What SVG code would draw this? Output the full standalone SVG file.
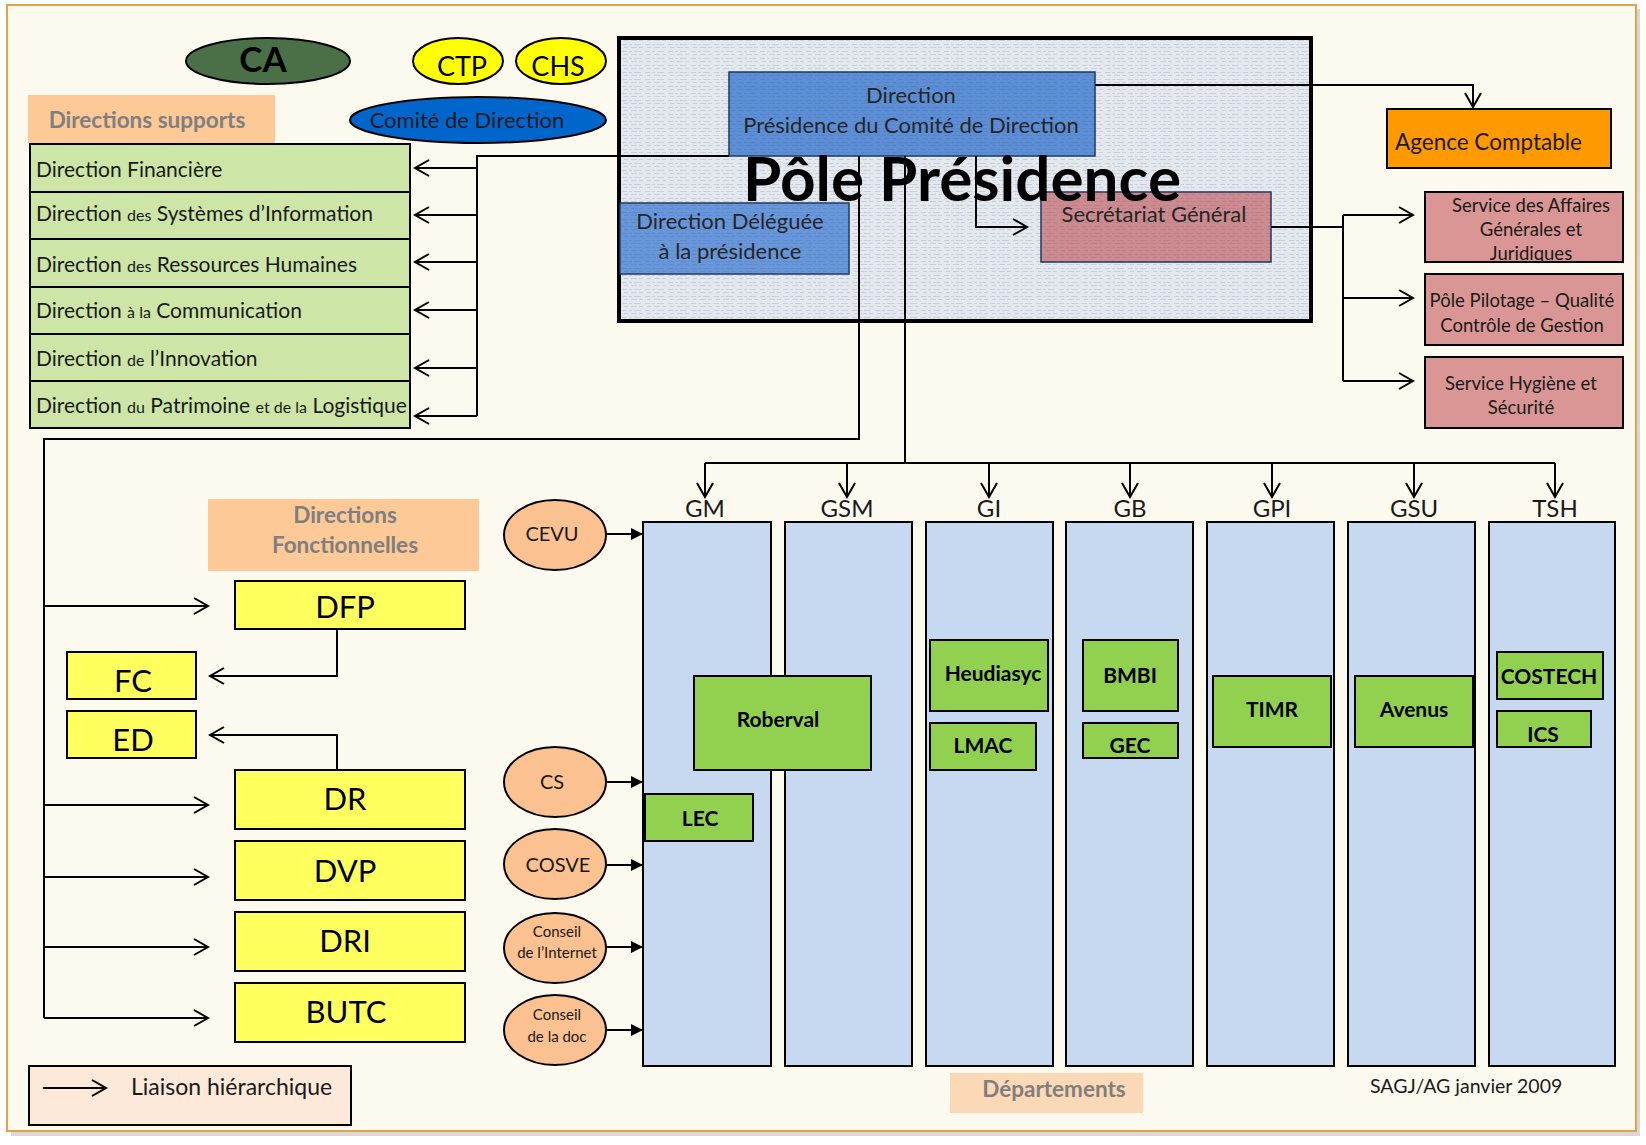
<svg xmlns="http://www.w3.org/2000/svg" width="1646" height="1145" viewBox="0 0 1646 1145">
<style>
text { font-family: Lato, "Open Sans", "Liberation Sans", sans-serif; fill:#1a1a1a; }
.bx { stroke:#000; stroke-width:2; }
.sup { fill:#CDE6A8; }
.yel { fill:#FFFF5E; }
.ell { fill:#FBC190; stroke:#000; stroke-width:2; }
.col { fill:#C6D9F1; stroke:#000; stroke-width:2; }
.lab { fill:#92D050; stroke:#000; stroke-width:2; }
.pink { fill:#D99694; stroke:#000; stroke-width:2; }
.peach { fill:#FCC997; }
.conn { fill:none; stroke:#000; stroke-width:2; }
.arr { marker-end:url(#open); }
.sarr { marker-end:url(#solid); }
.gl { font-weight:bold; fill:#7F7F7F; font-size:22.5px; text-anchor:middle; }
.st { font-size:21px; }
.sm { font-size:16px; }
.ytxt { font-size:31px; text-anchor:middle; fill:#000; }
.ltxt { font-size:21px; font-weight:bold; text-anchor:middle; fill:#000; }
.dep { font-size:24px; text-anchor:middle; }
.rt { font-size:18.5px; text-anchor:middle; }
.et { font-size:20px; text-anchor:middle; }
.es { font-size:15px; text-anchor:middle; }
.pt { font-size:22px; text-anchor:middle; fill:#262626; }
</style>
<defs>
<marker id="open" markerUnits="userSpaceOnUse" markerWidth="18" markerHeight="20" refX="15" refY="9" orient="auto">
<path d="M1,1 L15,9 L1,17" fill="none" stroke="#000" stroke-width="2"/>
</marker>
<marker id="solid" markerUnits="userSpaceOnUse" markerWidth="14" markerHeight="14" refX="12" refY="6" orient="auto">
<path d="M0,0 L12,6 L0,12 Z" fill="#000"/>
</marker>
<pattern id="tex" width="23" height="7" patternUnits="userSpaceOnUse">
<rect width="23" height="7" fill="#E3E7EE"/>
<path d="M1 2.5h5M8 2.5h3M13 2.5h7M3 5.5h4M10 5.5h6M18 5.5h4" stroke="#C9D0DB" stroke-width="1.2"/>
</pattern>
<pattern id="tex2" width="23" height="7" patternUnits="userSpaceOnUse">
<path d="M1 2.5h5M8 2.5h3M13 2.5h7M3 5.5h4M10 5.5h6M18 5.5h4" stroke="#000" stroke-opacity="0.08" stroke-width="1.2"/>
</pattern>
</defs>

<rect x="0" y="0" width="1646" height="1145" fill="#ffffff"/>
<rect x="11" y="9" width="1629" height="1127" fill="#bfbfbf" opacity="0.6"/>
<rect x="7" y="5" width="1629" height="1126" fill="#FCFAEF" stroke="#E3A34A" stroke-width="2"/>

<g id="pole-presidence">
<rect x="619" y="38" width="692" height="283" fill="url(#tex)" stroke="#000" stroke-width="4"/>
</g>
<g id="direction">
<rect x="729" y="72" width="366" height="84" fill="#5C8ED6" stroke="#1F3A60" stroke-width="1.5"/>
<rect x="729" y="72" width="366" height="84" fill="url(#tex2)"/>
<text class="pt" x="911" y="103">Direction</text>
<text class="pt" x="911" y="133">Présidence du Comité de Direction</text>
</g>
<g id="direction-deleguee">
<rect x="620" y="203" width="229" height="71" fill="#6797DA" stroke="#1F3A60" stroke-width="1.5"/>
<rect x="620" y="203" width="229" height="71" fill="url(#tex2)"/>
<text class="pt" x="730" y="229">Direction Déléguée</text>
<text class="pt" x="730" y="259">à la présidence</text>
</g>
<g id="secretariat">
<rect x="1041" y="192" width="230" height="70" fill="#CC8B90" stroke="#1F3A60" stroke-width="1.5"/>
<rect x="1041" y="192" width="230" height="70" fill="url(#tex2)"/>
<text class="pt" x="1154" y="222">Secrétariat Général</text>
</g>

<g id="connectors">
<path class="conn" d="M729 156 H477 V416"/>
<path class="conn arr" d="M477 168 H415"/>
<path class="conn arr" d="M477 215 H415"/>
<path class="conn arr" d="M477 262 H415"/>
<path class="conn arr" d="M477 310 H415"/>
<path class="conn arr" d="M477 368 H415"/>
<path class="conn arr" d="M477 416 H415"/>
<path class="conn arr" d="M976 156 V227 H1027"/>
<path class="conn arr" d="M1095 85 H1473 V107"/>
<path class="conn" d="M1271 227 H1343 M1343 215 V381"/>
<path class="conn arr" d="M1343 215 H1413"/>
<path class="conn arr" d="M1343 298 H1413"/>
<path class="conn arr" d="M1343 381 H1413"/>
<path class="conn" d="M859 156 V439 H44 V1018"/>
<path class="conn arr" d="M44 606 H208"/>
<path class="conn arr" d="M44 805 H208"/>
<path class="conn arr" d="M44 877 H208"/>
<path class="conn arr" d="M44 947 H208"/>
<path class="conn arr" d="M44 1018 H208"/>
<path class="conn arr" d="M337 629 V676 H210"/>
<path class="conn arr" d="M337 770 V735 H210"/>
<path class="conn" d="M905 156 V463 M705 463 H1555"/>
<path class="conn arr" d="M705 463 V497"/>
<path class="conn arr" d="M847 463 V497"/>
<path class="conn arr" d="M989 463 V497"/>
<path class="conn arr" d="M1130 463 V497"/>
<path class="conn arr" d="M1272 463 V497"/>
<path class="conn arr" d="M1414 463 V497"/>
<path class="conn arr" d="M1555 463 V497"/>
<path class="conn sarr" d="M606 534 H643"/>
<path class="conn sarr" d="M606 782 H643"/>
<path class="conn sarr" d="M606 865 H643"/>
<path class="conn sarr" d="M606 947 H643"/>
<path class="conn sarr" d="M606 1030 H643"/>
</g>

<text x="962" y="201" font-size="62" font-weight="bold" text-anchor="middle" style="fill:#000">Pôle Présidence</text>

<g id="ca"><ellipse cx="268" cy="61" rx="82" ry="23" fill="#4B6F47" stroke="#000" stroke-width="2"/>
<text x="263" y="72" font-size="35" font-weight="bold" text-anchor="middle" style="fill:#000">CA</text></g>
<g id="ctp"><ellipse cx="458" cy="61" rx="45" ry="23" fill="#FFFF00" stroke="#000" stroke-width="2"/>
<text x="462" y="76" font-size="27" text-anchor="middle" style="fill:#000">CTP</text></g>
<g id="chs"><ellipse cx="561" cy="61" rx="45" ry="23" fill="#FFFF00" stroke="#000" stroke-width="2"/>
<text x="558" y="76" font-size="27" text-anchor="middle" style="fill:#000">CHS</text></g>
<g id="comite"><ellipse cx="478" cy="120" rx="128" ry="23" fill="#0066CC" stroke="#000" stroke-width="2"/>
<text x="467" y="128" font-size="22" text-anchor="middle">Comité de Direction</text></g>

<g id="directions-supports"><rect class="peach" x="28" y="95" width="247" height="48"/>
<text class="gl" x="147" y="128">Directions supports</text></g>

<g id="dir-fin"><rect class="bx sup" x="30" y="144" width="380" height="48"/>
<text class="st" x="36" y="177">Direction Financière</text></g>
<g id="dir-si"><rect class="bx sup" x="30" y="192" width="380" height="47"/>
<text class="st" x="36" y="221">Direction <tspan class="sm">des</tspan> Systèmes d’Information</text></g>
<g id="dir-rh"><rect class="bx sup" x="30" y="239" width="380" height="48"/>
<text class="st" x="36" y="272">Direction <tspan class="sm">des</tspan> Ressources Humaines</text></g>
<g id="dir-com"><rect class="bx sup" x="30" y="287" width="380" height="47"/>
<text class="st" x="36" y="318">Direction <tspan class="sm">à la</tspan> Communication</text></g>
<g id="dir-inno"><rect class="bx sup" x="30" y="334" width="380" height="47"/>
<text class="st" x="36" y="366">Direction <tspan class="sm">de</tspan> l’Innovation</text></g>
<g id="dir-patri"><rect class="bx sup" x="30" y="381" width="380" height="47"/>
<text class="st" x="36" y="413">Direction <tspan class="sm">du</tspan> Patrimoine <tspan class="sm">et de la</tspan> Logistique</text></g>

<g id="agence"><rect class="bx" x="1387" y="109" width="224" height="59" fill="#FF9900"/>
<text x="1395" y="150" font-size="22.5">Agence Comptable</text></g>
<g id="saf"><rect class="pink" x="1425" y="192" width="198" height="70"/>
<text class="rt" x="1531" y="212">Service des Affaires</text>
<text class="rt" x="1531" y="236">Générales et</text>
<text class="rt" x="1531" y="260">Juridiques</text></g>
<g id="ppq"><rect class="pink" x="1425" y="274" width="198" height="71"/>
<text class="rt" x="1522" y="307">Pôle Pilotage – Qualité</text>
<text class="rt" x="1522" y="332">Contrôle de Gestion</text></g>
<g id="shs"><rect class="pink" x="1425" y="357" width="198" height="71"/>
<text class="rt" x="1521" y="390">Service Hygiène et</text>
<text class="rt" x="1521" y="414">Sécurité</text></g>

<g id="directions-fonctionnelles"><rect class="peach" x="208" y="499" width="271" height="72"/>
<text class="gl" x="345" y="523">Directions</text>
<text class="gl" x="345" y="553">Fonctionnelles</text></g>

<g id="dfp"><rect class="bx yel" x="235" y="581" width="230" height="48"/><text class="ytxt" x="345" y="618">DFP</text></g>
<g id="fc"><rect class="bx yel" x="67" y="652" width="129" height="47"/><text class="ytxt" x="133" y="692">FC</text></g>
<g id="ed"><rect class="bx yel" x="67" y="711" width="129" height="47"/><text class="ytxt" x="133" y="751">ED</text></g>
<g id="dr"><rect class="bx yel" x="235" y="770" width="230" height="59"/><text class="ytxt" x="345" y="810">DR</text></g>
<g id="dvp"><rect class="bx yel" x="235" y="841" width="230" height="59"/><text class="ytxt" x="345" y="882">DVP</text></g>
<g id="dri"><rect class="bx yel" x="235" y="912" width="230" height="59"/><text class="ytxt" x="345" y="952">DRI</text></g>
<g id="butc"><rect class="bx yel" x="235" y="983" width="230" height="59"/><text class="ytxt" x="346" y="1023">BUTC</text></g>

<g id="cevu"><ellipse class="ell" cx="555" cy="535" rx="51" ry="35"/><text class="et" x="552" y="541">CEVU</text></g>
<g id="cs"><ellipse class="ell" cx="555" cy="782" rx="51" ry="35"/><text class="et" x="552" y="789">CS</text></g>
<g id="cosve"><ellipse class="ell" cx="555" cy="864" rx="51" ry="35"/><text class="et" x="558" y="872">COSVE</text></g>
<g id="conseil-internet"><ellipse class="ell" cx="555" cy="948" rx="51" ry="35"/><text class="es" x="557" y="937">Conseil</text><text class="es" x="557" y="958">de l’Internet</text></g>
<g id="conseil-doc"><ellipse class="ell" cx="555" cy="1030" rx="51" ry="35"/><text class="es" x="557" y="1020">Conseil</text><text class="es" x="557" y="1042">de la doc</text></g>

<g id="gm"><rect class="col" x="643" y="522" width="128" height="544"/><text class="dep" x="705" y="517">GM</text></g>
<g id="gsm"><rect class="col" x="785" y="522" width="127" height="544"/><text class="dep" x="847" y="517">GSM</text></g>
<g id="gi"><rect class="col" x="926" y="522" width="127" height="544"/><text class="dep" x="989" y="517">GI</text></g>
<g id="gb"><rect class="col" x="1066" y="522" width="127" height="544"/><text class="dep" x="1130" y="517">GB</text></g>
<g id="gpi"><rect class="col" x="1207" y="522" width="127" height="544"/><text class="dep" x="1272" y="517">GPI</text></g>
<g id="gsu"><rect class="col" x="1348" y="522" width="127" height="544"/><text class="dep" x="1414" y="517">GSU</text></g>
<g id="tsh"><rect class="col" x="1489" y="522" width="126" height="544"/><text class="dep" x="1555" y="517">TSH</text></g>

<g id="roberval"><rect class="lab" x="694" y="676" width="177" height="94"/><text class="ltxt" x="778" y="727">Roberval</text></g>
<g id="lec"><rect class="lab" x="645" y="794" width="108" height="47"/><text class="ltxt" x="700" y="826">LEC</text></g>
<g id="heudiasyc"><rect class="lab" x="930" y="640" width="118" height="71"/><text class="ltxt" x="993" y="681">Heudiasyc</text></g>
<g id="lmac"><rect class="lab" x="930" y="723" width="106" height="47"/><text class="ltxt" x="983" y="753">LMAC</text></g>
<g id="bmbi"><rect class="lab" x="1083" y="640" width="95" height="71"/><text class="ltxt" x="1130" y="683">BMBI</text></g>
<g id="gec"><rect class="lab" x="1083" y="723" width="95" height="35"/><text class="ltxt" x="1130" y="753">GEC</text></g>
<g id="timr"><rect class="lab" x="1213" y="676" width="118" height="71"/><text class="ltxt" x="1272" y="717">TIMR</text></g>
<g id="avenus"><rect class="lab" x="1355" y="676" width="118" height="71"/><text class="ltxt" x="1414" y="717">Avenus</text></g>
<g id="costech"><rect class="lab" x="1497" y="652" width="106" height="47"/><text class="ltxt" x="1549" y="684">COSTECH</text></g>
<g id="ics"><rect class="lab" x="1497" y="711" width="94" height="36"/><text class="ltxt" x="1543" y="742">ICS</text></g>

<g id="legende"><rect class="bx" x="29" y="1066" width="322" height="59" fill="#FDE9D9"/>
<path class="conn arr" d="M43 1088 H106"/>
<text x="131" y="1095" font-size="23">Liaison hiérarchique</text></g>

<g id="departements"><rect x="950" y="1073" width="193" height="40" fill="#FCD9B6"/>
<text class="gl" x="1054" y="1097">Départements</text></g>
<text x="1370" y="1093" font-size="19.5" fill="#262626">SAGJ/AG janvier 2009</text>
</svg>
